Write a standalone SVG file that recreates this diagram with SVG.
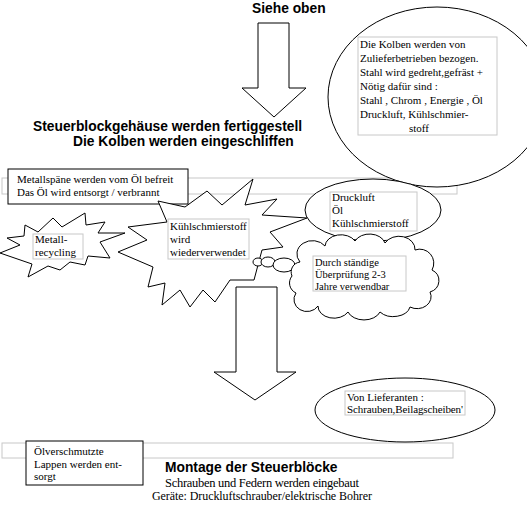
<svg xmlns="http://www.w3.org/2000/svg" width="527" height="510" viewBox="0 0 527 510">
<style>
.shape{fill:#fff;stroke:#000;stroke-width:1}
.gbox{fill:none;stroke:#c8c8c8;stroke-width:1}
.bbox{fill:#fff;stroke:#000;stroke-width:1}
.h{font-family:"Liberation Sans",Arial,sans-serif;font-weight:bold;font-size:13.8px;fill:#000}
.t{font-family:"Liberation Serif","Times New Roman","DejaVu Serif",serif;font-size:12px;fill:#000}
.s{font-family:"Liberation Serif","Times New Roman","DejaVu Serif",serif;font-size:11px;fill:#000}
.xs{font-family:"Liberation Serif","Times New Roman","DejaVu Serif",serif;font-size:10.5px;fill:#000}
</style>
<rect width="527" height="510" fill="#fff"/>

<rect class="gbox" x="2" y="178" width="455" height="16"/>
<rect class="gbox" x="2" y="443" width="451" height="15"/>

<g id="connectors">
  <polygon class="shape" points="258,23 289,23 289,88 306,88 274,117 242,88 258,88"/>
  <polygon class="shape" points="236,287 277,287 277,372 296,372 255,400 214,372 236,372"/>
</g>

<g id="title-top">
  <text class="h" x="252" y="13">Siehe oben</text>
</g>

<g id="steuerblock">
  <text class="h" x="33" y="131">Steuerblockgehäuse werden fertiggestell</text>
  <text class="h" x="73" y="146">Die Kolben werden eingeschliffen</text>
</g>

<g id="kolben-circle">
  <ellipse class="shape" cx="437" cy="97" rx="109" ry="90"/>
  <rect class="gbox" x="358" y="37" width="139" height="98"/>
  <text class="s" x="360" y="48">Die Kolben werden von</text>
  <text class="s" x="360" y="62">Zulieferbetrieben bezogen.</text>
  <text class="s" x="360" y="76">Stahl wird gedreht,gefräst +</text>
  <text class="s" x="360" y="90">Nötig dafür sind :</text>
  <text class="s" x="360" y="104">Stahl , Chrom , Energie , Öl</text>
  <text class="s" x="360" y="118">Druckluft, Kühlschmier-</text>
  <text class="s" x="409" y="132">stoff</text>
</g>

<g id="metallspaene">
  <rect class="bbox" x="8" y="169" width="180" height="35"/>
  <text class="s" x="17" y="183">Metallspäne werden vom Öl befreit</text>
  <text class="s" x="17" y="196">Das Öl wird entsorgt / verbrannt</text>
</g>

<g id="metall-recycling">
  <polygon class="shape" points="25,225 38,232 53,218 62,227 85,213 86,225 105,222 98,233 125,233 100,242 110,258 88,256 85,265 70,262 60,270 48,266 28,277 32,264 0,253 20,245 7,238 24,236"/>
  <rect class="gbox" x="33" y="234" width="50" height="25"/>
  <text class="s" x="35" y="243">Metall-</text>
  <text class="s" x="35" y="256">recycling</text>
</g>

<g id="kuehlschmierstoff">
  <polygon class="shape" points="158,201 185,207 207,191 222,205 253,179 245,205 277,199 262,215 307,218 270,232 283,247 262,250 254,280 230,280 215,302 203,290 190,307 180,290 162,305 165,283 148,287 153,267 118,252 147,240 128,227 167,222"/>
  <rect class="gbox" x="168" y="219" width="81" height="40"/>
  <text class="s" x="170" y="230">Kühlschmierstoff</text>
  <text class="s" x="170" y="243">wird</text>
  <text class="s" x="170" y="256">wiederverwendet</text>
</g>

<g id="druckluft">
  <ellipse class="shape" cx="373" cy="210" rx="68" ry="31"/>
  <rect class="gbox" x="330" y="192" width="87" height="39"/>
  <text class="s" x="332" y="201">Druckluft</text>
  <text class="s" x="332" y="214">Öl</text>
  <text class="s" x="332" y="227">Kühlschmierstoff</text>
</g>

<g id="pruefung-cloud">
  <ellipse class="shape" cx="258" cy="262" rx="5" ry="4"/>
  <ellipse class="shape" cx="268" cy="262" rx="7" ry="5"/>
  <ellipse class="shape" cx="284" cy="265" rx="11" ry="7"/>
  <path class="shape" d="M300,262 A14,12 0 0 1 325,246 A16,12 0 0 1 355,241 A16,12 0 0 1 385,243 A16,13 0 0 1 415,250 A14,14 0 0 1 432,270 A13,12 0 0 1 430,292 A14,12 0 0 1 410,307 A17,12 0 0 1 380,312 A17,12 0 0 1 348,312 A16,12 0 0 1 318,306 A13,12 0 0 1 296,293 A11,11 0 0 1 292,276 A10,10 0 0 1 300,262 Z"/>
  <rect class="gbox" x="313" y="256" width="93" height="35"/>
  <text class="xs" x="315" y="266">Durch ständige</text>
  <text class="xs" x="315" y="278">Überprüfung 2-3</text>
  <text class="xs" x="315" y="290">Jahre verwendbar</text>
</g>

<g id="lieferanten">
  <ellipse class="shape" cx="405" cy="410" rx="90" ry="32"/>
  <rect class="gbox" x="345" y="391" width="120" height="24"/>
  <text class="s" x="347" y="401">Von Lieferanten :</text>
  <text class="s" x="347" y="413" textLength="116">Schrauben,Beilagscheiben'</text>
</g>

<g id="lappen">
  <rect class="bbox" x="26" y="441" width="117" height="44"/>
  <text class="s" x="34" y="455">Ölverschmutzte</text>
  <text class="s" x="34" y="468">Lappen werden ent-</text>
  <text class="s" x="34" y="480">sorgt</text>
</g>

<g id="montage">
  <text class="h" x="165" y="472">Montage der Steuerblöcke</text>
  <text class="t" x="165" y="487" style="font-size:12.5px" textLength="194">Schrauben und Federn werden eingebaut</text>
  <text class="t" x="152" y="500" textLength="220">Geräte: Druckluftschrauber/elektrische Bohrer</text>
</g>
</svg>
